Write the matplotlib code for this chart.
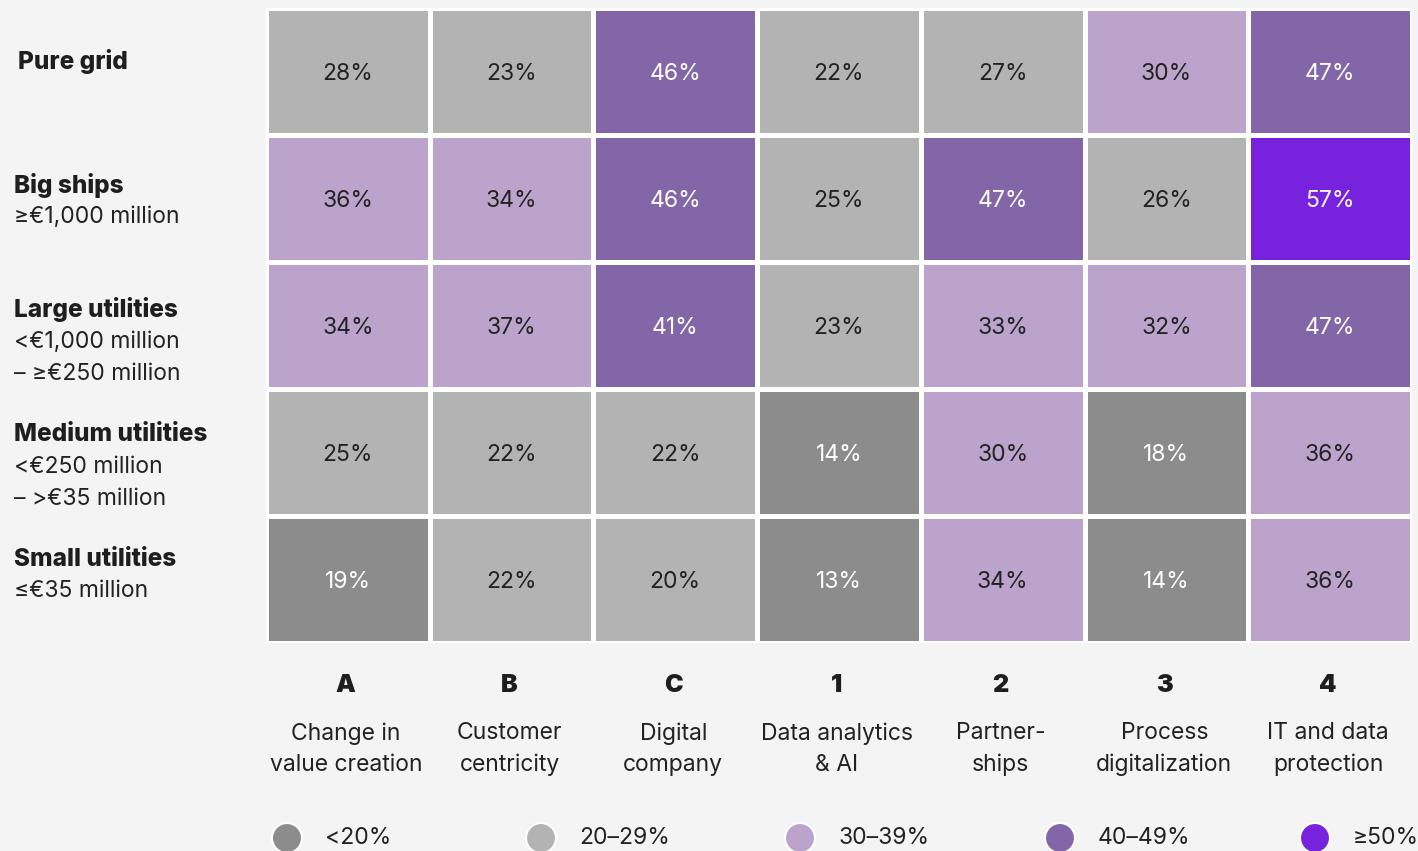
import matplotlib
matplotlib.use("Agg")
import matplotlib.pyplot as plt
import numpy as np
from matplotlib.colors import ListedColormap, BoundaryNorm
from matplotlib.patches import Ellipse

# ---- data ----
row_titles = ["Pure grid", "Big ships", "Large utilities", "Medium utilities", "Small utilities"]
row_subtitles = ["", "≥€1,000 million", "<€1,000 million\n– ≥€250 million",
                 "<€250 million\n– >€35 million", "≤€35 million"]
col_letters = ["A", "B", "C", "1", "2", "3", "4"]
col_names = ["Change in\nvalue creation", "Customer\ncentricity", "Digital\ncompany",
             "Data analytics\n& AI", "Partner-\nships", "Process\ndigitalization",
             "IT and data\nprotection"]
values = [
    [28, 23, 46, 22, 27, 30, 47],
    [36, 34, 46, 25, 47, 26, 57],
    [34, 37, 41, 23, 33, 32, 47],
    [25, 22, 22, 14, 30, 18, 36],
    [19, 22, 20, 13, 34, 14, 36],
]
bin_edges = [0, 20, 30, 40, 50, 100]
bin_labels = ["<20%", "20–29%", "30–39%", "40–49%", "≥50%"]
bin_colors = ["#8c8c8c", "#b3b3b3", "#bca3cc", "#8266a8", "#7722dd"]
bin_text = ["white", "#222222", "#222222", "white", "white"]

# ---- figure ----
W, H = 1418, 851
BG = "#f4f4f4"
plt.rcParams['font.family'] = ['Inter', 'DejaVu Sans']
fig = plt.figure(figsize=(W / 100, H / 100), dpi=100, facecolor=BG)

def fx(px):
    return px / W

def fy(py):
    return 1 - py / H

left, right, top, bottom = 266, 1412, 8, 643
ax = fig.add_axes([fx(left), fy(bottom), fx(right - left), (bottom - top) / H])
ax.set_facecolor("white")

data = np.array(values, dtype=float)
cmap = ListedColormap(bin_colors)
norm = BoundaryNorm(bin_edges, cmap.N)
nrows, ncols = data.shape
ax.pcolormesh(np.arange(ncols + 1), np.arange(nrows + 1), data, cmap=cmap, norm=norm,
              edgecolors="white", linewidth=2.2)
ax.set_xlim(0, ncols)
ax.set_ylim(nrows, 0)
ax.axis("off")

LW = "normal"
for i in range(nrows):
    for j in range(ncols):
        v = values[i][j]
        k = int(np.digitize(v, bin_edges[1:-1]))
        ax.text(j + 0.5, i + 0.52, f"{v}%", ha="center", va="center",
                fontsize=16.5, color=bin_text[k], fontweight=LW)

# row labels
title_y = [62, 185, 310, 435, 559]
title_x = [18, 14, 14, 14, 14]
for t, s, ty, tx in zip(row_titles, row_subtitles, title_y, title_x):
    fig.text(fx(tx), fy(ty), t, ha="left", va="center", fontsize=17.5,
             fontweight="heavy", color="#1e1e1e")
    if s:
        for li, line in enumerate(s.split("\n")):
            fig.text(fx(14), fy(ty + 32 * (li + 1)), line, ha="left", va="center",
                     fontsize=16.5, color="#222222", fontweight=LW)

# column labels
cell_w = (right - left) / ncols
for j, (L, n) in enumerate(zip(col_letters, col_names)):
    cx = left + cell_w * (j + 0.5) - 2
    fig.text(fx(cx), fy(685), L, ha="center", va="center", fontsize=18,
             fontweight="black", color="#1e1e1e")
    fig.text(fx(cx), fy(749), n, ha="center", va="center", fontsize=16.5,
             color="#222222", linespacing=1.55, multialignment="center", fontweight=LW)

# legend
leg_x = [287, 541, 800, 1060, 1315]
for lx, lab, col in zip(leg_x, bin_labels, bin_colors):
    e = Ellipse((fx(lx), fy(838)), 30 / W, 30 / H, transform=fig.transFigure,
                facecolor=col, edgecolor="white", linewidth=1.5)
    fig.patches.append(e)
    fig.text(fx(lx + 38), fy(838), lab, ha="left", va="center", fontsize=16.5,
             color="#222222", fontweight=LW)

fig.savefig("out.png", dpi=100, facecolor=BG)
